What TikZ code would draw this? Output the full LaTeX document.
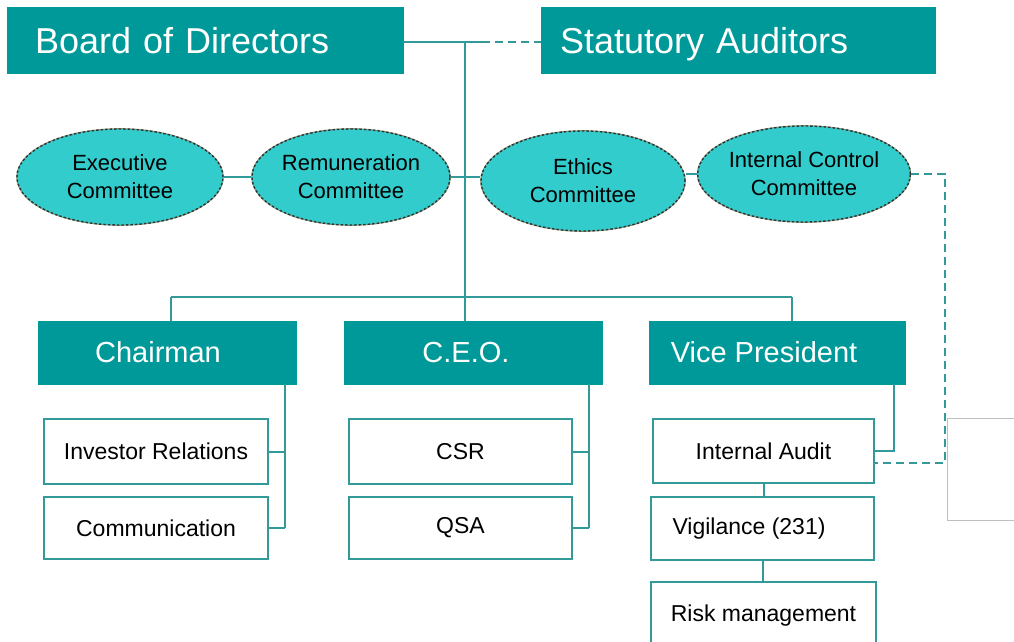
\documentclass[tikz,border=0pt]{standalone}
\usepackage{fontspec}
\setmainfont{Liberation Sans}
\usetikzlibrary{shapes.geometric}
\definecolor{teal1}{HTML}{009999}
\definecolor{cyanfill}{HTML}{33CCCC}
\definecolor{linec}{HTML}{339999}
\definecolor{ellb}{HTML}{8A9470}
\tikzset{
  head/.style={rectangle, fill=teal1, draw=teal1, text=white, inner sep=0pt},
  bighead/.style={head, font=\fontsize{36}{40}\selectfont, minimum height=66pt, align=left, text depth=0pt},
  midhead/.style={head, font=\fontsize{29}{32}\selectfont, minimum width=258pt, minimum height=63pt},
  commit/.style={ellipse, fill=cyanfill, draw=black!80, line width=1.4pt, dash pattern=on 2.5pt off 2pt,
    preaction={draw=ellb, line width=1.6pt, solid},
    font=\fontsize{22}{28}\selectfont, align=center, inner sep=0pt},
  unit/.style={rectangle, draw=linec, line width=2pt, fill=white, font=\fontsize{23}{26}\selectfont, inner sep=0pt},
  link/.style={draw=linec, line width=2pt},
  dlink/.style={link, dash pattern=on 8pt off 5pt},
}
\begin{document}
\begin{tikzpicture}[x=1pt,y=-1pt]
\useasboundingbox (0,0) rectangle (1014,642);
\clip (0,0) rectangle (1014,642);

% top boxes
\node[bighead, minimum width=396pt, text width=340pt, inner xsep=28pt] (board) at (205,40) {Board of Directors};
\node[bighead, minimum width=394pt, text width=356pt, inner xsep=19pt] (stat) at (738,40) {Statutory Auditors};

% committees
\node[commit, minimum width=206pt, minimum height=96pt] (exec) at (120,177) {Executive\\Committee};
\node[commit, minimum width=198pt, minimum height=96pt] (remun) at (351,177) {Remuneration\\Committee};
\node[commit, minimum width=204pt, minimum height=100pt] (ethics) at (583,181) {Ethics\\Committee};
\node[commit, minimum width=204pt, minimum height=96pt] (ic) at (804,174) {Internal Control\\Committee};

% executives
\node[midhead] (chair) at (167,352.5) {Chairman\kern18pt};
\node[midhead] (ceo) at (473,352.5) {C.E.O.\kern14pt};
\node[midhead, minimum width=256pt] (vp) at (777,352.5) {Vice President\kern26pt};

% units
\node[unit, minimum width=224pt, minimum height=65pt] (inv) at (156,451.5) {Investor Relations};
\node[unit, minimum width=224pt, minimum height=62pt] (comm) at (156,528) {Communication};
\node[unit, minimum width=223pt, minimum height=65pt] (csr) at (460.5,451.5) {CSR};
\node[unit, minimum width=223pt, minimum height=62pt] (qsa) at (460.5,528) {QSA};
\node[unit, minimum width=221pt, minimum height=64pt] (ia) at (763.5,451) {Internal Audit};
\node[unit, minimum width=223pt, minimum height=63pt] (vig) at (762.5,528.5) {Vigilance (231)\kern27pt};
\node[unit, minimum width=225pt, minimum height=68pt] (risk) at (763.5,616) {Risk management};

% partial grey box at right edge
\node[rectangle, draw=black!25, line width=1pt, minimum width=120pt, minimum height=102pt, inner sep=0pt] (ext) at (1007,469) {};

% connectors
\coordinate (j0) at (465,42);
\coordinate (jd) at (482,42);
\draw[link] (board.east|-j0) -- (jd);
\draw[dlink] (jd) -- (stat.west|-j0);
\coordinate (bus) at (465,297);
\coordinate (busL) at (171,297);
\coordinate (busR) at (792,297);
\draw[link] (j0) -- (bus);
\draw[link] (busL) -- (busR);
\draw[link] (busL) -- (busL|-chair.north);
\draw[link] (bus) -- (bus|-ceo.north);
\draw[link] (busR) -- (busR|-vp.north);

\draw[link] (exec.east) -- (remun.west);
\draw[link] (remun.east) -- (remun.east-|ethics.west);
\draw[link] (ic.west) -- (ic.west-|ethics.east);

\coordinate (cv) at (285,0);
\draw[link] (cv|-chair.south) -- (cv|-comm.east);
\draw[link] (inv.east) -- (cv|-inv.east);
\draw[link] (comm.east) -- (cv|-comm.east);

\coordinate (ev) at (589,0);
\draw[link] (ev|-ceo.south) -- (ev|-qsa.east);
\draw[link] (csr.east) -- (ev|-csr.east);
\draw[link] (qsa.east) -- (ev|-qsa.east);

\coordinate (vv) at (894,0);
\draw[link] (vv|-vp.south) |- (ia.east);
\draw[link] (ia.south) -- (ia.south|-vig.north);
\draw[link] (vig.south) -- (vig.south|-risk.north);

\coordinate (dx) at (945,0);
\coordinate (iad) at ([yshift=-12pt]ia.east);
\draw[dlink] (ic.east) -- (dx|-ic.east) -- (dx|-iad) -- (iad);
\end{tikzpicture}
\end{document}
